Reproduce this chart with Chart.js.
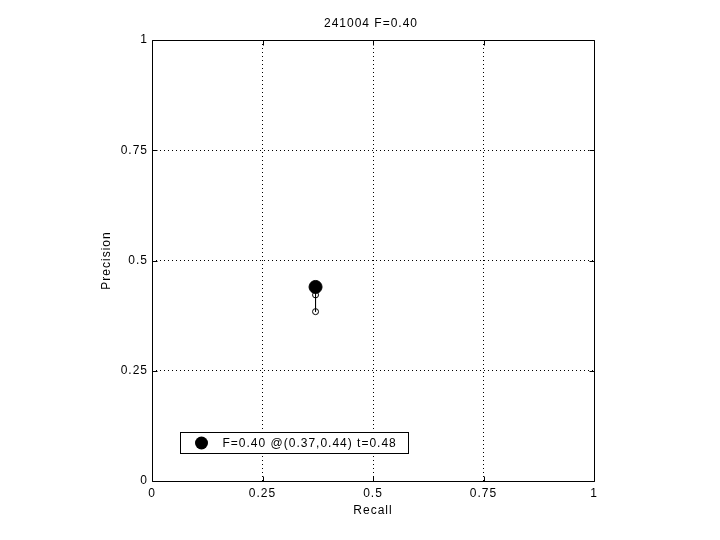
<!DOCTYPE html>
<html>
<head>
<meta charset="utf-8">
<script src="https://cdn.jsdelivr.net/npm/chart.js@4/dist/chart.umd.min.js"></script>
<style>
html,body{margin:0;padding:0;background:#fff;}
#wrap{width:720px;height:540px;}
</style>
</head>
<body>
<div id="wrap"><canvas id="c" width="720" height="540"></canvas></div>
<script>
// ---- data ----
const chartTitle = "241004 F=0.40";
const xTickLabels = ["0", "0.25", "0.5", "0.75", "1"];
const yTickLabels = ["0", "0.25", "0.5", "0.75", "1"];
const curveRecall = [0.37, 0.37, 0.37];
const curvePrecision = [0.44, 0.422, 0.384];
const bestRecall = [0.37];
const bestPrecision = [0.44];
const bestLabel = "F=0.40 @(0.37,0.44) t=0.48";
const xTitle = "Recall";
const yTitle = "Precision";

const FONT = "'Liberation Sans', Arial, sans-serif";
Chart.defaults.font.family = FONT;
Chart.defaults.font.size = 12;
Chart.defaults.color = '#000';

const curveData = curveRecall.map((r, i) => ({x: r, y: curvePrecision[i]}));
const bestData = bestRecall.map((r, i) => ({x: r, y: bestPrecision[i]}));

const framePlugin = {
  id: 'frame',
  beforeDraw(chart) {
    const ctx = chart.ctx;
    if ('letterSpacing' in ctx) ctx.letterSpacing = '1px';
  },
  afterDatasetsDraw(chart) {
    const ctx = chart.ctx;
    const a = chart.chartArea;
    const xs = chart.scales.x, ys = chart.scales.y;
    ctx.save();
    ctx.strokeStyle = '#000';
    ctx.lineWidth = 1;
    const L = Math.round(a.left) + 0.5, R = Math.round(a.right) + 0.5;
    const T = Math.round(a.top) + 0.5, B = Math.round(a.bottom) + 0.5;
    ctx.beginPath();
    ctx.rect(L, T, R - L, B - T);
    ctx.stroke();
    const tl = 5;
    ctx.beginPath();
    xs.ticks.forEach(t => {
      const px = Math.round(xs.getPixelForValue(t.value)) + 0.5;
      ctx.moveTo(px, B); ctx.lineTo(px, B - tl);
      ctx.moveTo(px, T); ctx.lineTo(px, T + tl);
    });
    ys.ticks.forEach(t => {
      const py = Math.round(ys.getPixelForValue(t.value)) + 0.5;
      ctx.moveTo(L, py); ctx.lineTo(L + tl, py);
      ctx.moveTo(R, py); ctx.lineTo(R - tl, py);
    });
    ctx.stroke();

    ctx.font = '12px ' + FONT;
    ctx.fillStyle = '#000';
    // title, centred over the plot area
    ctx.textAlign = 'center';
    ctx.textBaseline = 'middle';
    ctx.fillText(chartTitle, (a.left + a.right) / 2 - 2, 24);

    // legend box
    const tw = ctx.measureText(bestLabel).width;
    const bx = Math.round(a.left) + 28.5, by = Math.round(a.bottom) - 48.5;
    const bw = Math.round(42 + tw + 12), bh = 21;
    ctx.fillStyle = '#fff';
    ctx.fillRect(bx, by, bw, bh);
    ctx.strokeRect(bx, by, bw, bh);
    ctx.fillStyle = '#000';
    ctx.beginPath();
    ctx.arc(bx + 21, by + bh / 2, 6.5, 0, Math.PI * 2);
    ctx.fill();
    ctx.textAlign = 'left';
    ctx.fillText(bestLabel, bx + 42, by + bh / 2 + 0.5);
    ctx.restore();
  }
};

const gridColor = ctx => (ctx.tick && (ctx.tick.value === 0 || ctx.tick.value === 1)) ? 'rgba(0,0,0,0)' : '#000';

new Chart(document.getElementById('c'), {
  type: 'scatter',
  data: {
    datasets: [
      {
        label: bestLabel,
        data: bestData,
        pointRadius: 6.5,
        pointHoverRadius: 6.5,
        pointBackgroundColor: '#000',
        pointBorderColor: '#000',
        showLine: false,
        order: 0
      },
      {
        label: 'curve',
        data: curveData,
        showLine: true,
        borderColor: '#000',
        borderWidth: 1,
        pointRadius: 3,
        pointBorderWidth: 1,
        pointBackgroundColor: 'rgba(0,0,0,0)',
        pointBorderColor: '#000',
        order: 1
      }
    ]
  },
  options: {
    responsive: false,
    animation: false,
    layout: {padding: {left: 96, right: 126, top: 40, bottom: 20}},
    plugins: {
      legend: {display: false},
      tooltip: {enabled: false},
      title: {display: false}
    },
    scales: {
      x: {
        type: 'linear', min: 0, max: 1,
        afterFit(s) { s.height = 39; },
        ticks: {stepSize: 0.25, padding: 5, color: '#000', maxRotation: 0,
          callback: (v, i) => xTickLabels[i]},
        grid: {drawTicks: false, color: gridColor, lineWidth: 1},
        border: {display: false, dash: [1, 3]},
        title: {display: true, text: xTitle, color: '#000', font: {size: 12}, padding: {top: 4, bottom: 2}}
      },
      y: {
        type: 'linear', min: 0, max: 1,
        afterFit(s) { s.width = 56; },
        ticks: {stepSize: 0.25, padding: 4, color: '#000',
          callback: (v, i) => yTickLabels[i]},
        grid: {drawTicks: false, color: gridColor, lineWidth: 1},
        border: {display: false, dash: [1, 3]},
        title: {display: true, text: yTitle, color: '#000', font: {size: 12}, padding: {top: 3, bottom: 0}}
      }
    }
  },
  plugins: [framePlugin]
});
</script>
</body>
</html>
